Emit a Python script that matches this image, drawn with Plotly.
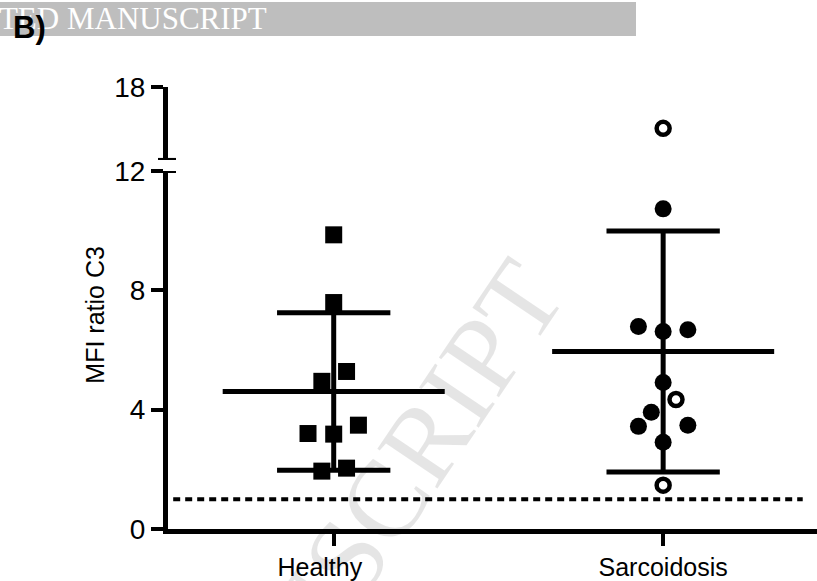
import plotly.graph_objects as go

# ---- data ----
groups = ["Healthy", "Sarcoidosis"]
group_pos = [0, 1]

healthy = [9.86, 7.59, 4.95, 5.28, 3.20, 3.18, 3.48, 1.94, 2.04]
healthy_jitter = [0, 0, -0.036, 0.039, -0.078, 0, 0.075, -0.036, 0.039]

sarc_filled = [10.73, 6.79, 6.62, 6.68, 4.91, 3.91, 3.44, 3.48, 2.91]
sarc_filled_jitter = [0, -0.075, 0, 0.075, 0, -0.036, -0.075, 0.075, 0]

sarc_open = [14.6, 4.34, 1.47]
sarc_open_jitter = [0, 0.039, 0]

group_mean = [4.61, 5.95]
group_sd = [2.64, 4.04]

threshold = 1.0

lower_ticks = [0, 4, 8, 12]
upper_ticks = [18]
axis_break = 12

FONT = "Liberation Sans, Arial, sans-serif"
SERIF = "Liberation Serif, Times New Roman, serif"
BLACK = "#000000"
NBSP = "\u00a0"


def split(values, jitter, base):
    """Split points between the lower (<=break) and upper (>break) axis segments."""
    lo_x, lo_y, hi_x, hi_y = [], [], [], []
    for v, j in zip(values, jitter):
        if v > axis_break:
            hi_x.append(base + j)
            hi_y.append(v)
        else:
            lo_x.append(base + j)
            lo_y.append(v)
    return lo_x, lo_y, hi_x, hi_y


fig = go.Figure()

# mean line, SD whiskers and caps for each group
MEAN_HALF = 0.337
CAP_HALF = 0.172
lx, ly = [], []
for pos, m, s in zip(group_pos, group_mean, group_sd):
    lx += [pos - MEAN_HALF, pos + MEAN_HALF, None]
    ly += [m, m, None]
    lx += [pos - CAP_HALF, pos + CAP_HALF, None]
    ly += [m + s, m + s, None]
    lx += [pos - CAP_HALF, pos + CAP_HALF, None]
    ly += [m - s, m - s, None]
    lx += [pos, pos, None]
    ly += [m - s, m + s, None]
fig.add_trace(go.Scatter(x=lx, y=ly, mode="lines",
                         line=dict(color=BLACK, width=5),
                         hoverinfo="skip", showlegend=False))

# Healthy: filled squares
lo_x, lo_y, hi_x, hi_y = split(healthy, healthy_jitter, group_pos[0])
sq = dict(symbol="square", size=17, color=BLACK, line=dict(width=0))
fig.add_trace(go.Scatter(x=lo_x, y=lo_y, mode="markers", marker=sq,
                         showlegend=False, yaxis="y"))
if hi_y:
    fig.add_trace(go.Scatter(x=hi_x, y=hi_y, mode="markers", marker=sq,
                             showlegend=False, yaxis="y2"))

# Sarcoidosis: filled circles
lo_x, lo_y, hi_x, hi_y = split(sarc_filled, sarc_filled_jitter, group_pos[1])
dot = dict(symbol="circle", size=17, color=BLACK, line=dict(width=0))
fig.add_trace(go.Scatter(x=lo_x, y=lo_y, mode="markers", marker=dot,
                         showlegend=False, yaxis="y"))
if hi_y:
    fig.add_trace(go.Scatter(x=hi_x, y=hi_y, mode="markers", marker=dot,
                             showlegend=False, yaxis="y2"))

# Sarcoidosis: open circles
lo_x, lo_y, hi_x, hi_y = split(sarc_open, sarc_open_jitter, group_pos[1])
ring = dict(symbol="circle", size=13, color="#ffffff",
            line=dict(color=BLACK, width=4.5))
fig.add_trace(go.Scatter(x=lo_x, y=lo_y, mode="markers", marker=ring,
                         showlegend=False, yaxis="y"))
if hi_y:
    fig.add_trace(go.Scatter(x=hi_x, y=hi_y, mode="markers", marker=ring,
                             showlegend=False, yaxis="y2"))

shapes = [
    # dotted reference line
    dict(type="line", xref="paper", yref="y", x0=0.008, x1=0.978,
         y0=threshold, y1=threshold,
         line=dict(color=BLACK, width=4, dash="7px,5px"), layer="below"),
    # axis break marks
    dict(type="line", xref="paper", yref="y", xsizemode="pixel", xanchor=0,
         x0=-10, x1=8, y0=axis_break, y1=axis_break,
         line=dict(color=BLACK, width=4)),
    dict(type="line", xref="paper", yref="y2", xsizemode="pixel", xanchor=0,
         x0=-10, x1=8, y0=axis_break, y1=axis_break,
         line=dict(color=BLACK, width=4)),
    # banner strip at the top of the page
    dict(type="rect", xref="paper", yref="paper", xsizemode="pixel",
         ysizemode="pixel", xanchor=0, yanchor=1,
         x0=-168, x1=468, y0=85, y1=51,
         fillcolor="#bebebe", line=dict(width=0)),
]

annotations = [
    # banner text
    dict(text="ACCEPTED MANUSCRIPT", xref="paper", yref="paper",
         x=0.156, y=1, xanchor="right", yanchor="middle", yshift=69,
         showarrow=False,
         font=dict(family=SERIF, size=31, color="#ffffff")),
    # panel letter
    dict(text="<b>B)</b>", xref="paper", yref="paper", x=0, y=1,
         xshift=-157, yshift=60, xanchor="left", yanchor="middle",
         showarrow=False, font=dict(family=FONT, size=31, color=BLACK)),
    # y-axis title
    dict(text="MFI ratio C3", xref="paper", yref="paper", x=0, y=0.485,
         xshift=-73, xanchor="center", yanchor="middle", textangle=-90,
         showarrow=False, font=dict(family=FONT, size=25, color=BLACK)),
    # diagonal watermark
    dict(text="MANUSCRIPT", xref="paper", yref="paper", x=0.265, y=0.0,
         xanchor="center", yanchor="middle", textangle=-56, yshift=-38,
         showarrow=False,
         font=dict(family=SERIF, size=110, color="rgba(0,0,0,0.10)")),
]

axis_common = dict(showline=True, linecolor=BLACK, linewidth=5,
                   ticks="outside", ticklen=12, tickwidth=4, tickcolor=BLACK,
                   showgrid=False, zeroline=False,
                   tickfont=dict(family=FONT, size=28, color=BLACK))

fig.update_layout(
    width=817, height=581,
    margin=dict(l=168, r=0, t=87, b=52),
    paper_bgcolor="#ffffff", plot_bgcolor="#ffffff",
    xaxis=dict(range=[-0.503, 1.467], tickvals=group_pos,
               ticktext=[groups[0] + NBSP * 4, groups[1]],
               **{**axis_common,
                  "tickfont": dict(family=FONT, size=25, color=BLACK)}),
    yaxis=dict(domain=[0, 0.81], range=[0, 12], tickvals=lower_ticks,
               anchor="x", **axis_common),
    yaxis2=dict(domain=[0.835, 1], range=[12, 18], tickvals=upper_ticks,
                anchor="x", **axis_common),
    shapes=shapes, annotations=annotations,
    showlegend=False,
)

fig.write_html("out.html")
